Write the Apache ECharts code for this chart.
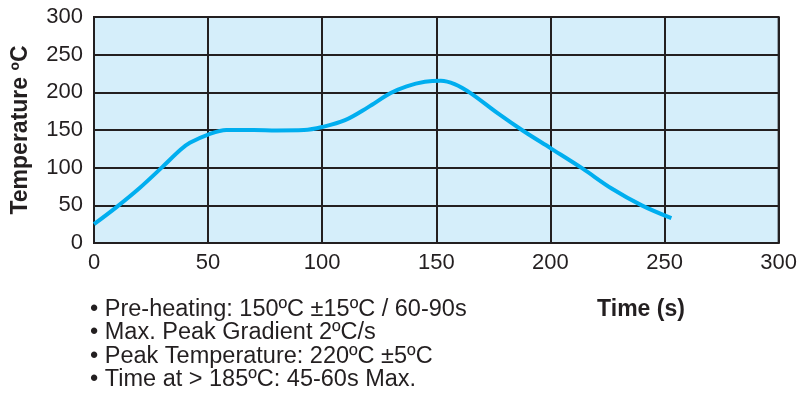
<!DOCTYPE html>
<html><head><meta charset="utf-8">
<script src="https://cdn.jsdelivr.net/npm/echarts@6/dist/echarts.min.js"></script>
<style>html,body{margin:0;padding:0;background:#fff}#c{width:800px;height:399px}</style>
</head><body><div id="c"></div>
<script>
const timeS = [0, 10, 20, 30, 38, 42, 50, 58, 70, 80, 92, 100, 110, 120, 130, 137, 145, 152, 158, 165, 177, 188, 200, 214, 227, 240, 253];
const tempC = [25, 48, 73, 101, 124, 133, 144, 150, 150, 149.5, 150, 154, 163, 180, 199, 208, 214, 215.5, 211, 199, 172, 149, 126, 99, 72, 50, 33];
const xTicks = [0, 50, 100, 150, 200, 250, 300];
const yTicks = [0, 50, 100, 150, 200, 250, 300];
const notes = [
  '\u2022 Pre-heating: 150\u00baC \u00b115\u00baC / 60-90s',
  '\u2022 Max. Peak Gradient 2\u00baC/s',
  '\u2022 Peak Temperature: 220\u00baC \u00b15\u00baC',
  '\u2022 Time at > 185\u00baC: 45-60s Max.'
];
const xTitle = 'Time (s)';
const yTitle = 'Temperature \u00baC';

const FONT = '"Liberation Sans", Arial, Helvetica, sans-serif';
const TXT = '#231f20';
const chart = echarts.init(document.getElementById('c'), null, {renderer: 'canvas'});
const pts = timeS.map((t, i) => [t, tempC[i]]);
const noteY = [310, 333, 357, 380];
chart.setOption({
  animation: false,
  grid: {left: 94, top: 17, right: 20, bottom: 156, show: true, backgroundColor: '#d5eefa', borderColor: TXT, borderWidth: 2},
  xAxis: {
    type: 'value', min: xTicks[0], max: xTicks[xTicks.length - 1], interval: 50,
    axisLine: {show: true, lineStyle: {color: TXT, width: 2}},
    axisTick: {show: false},
    splitLine: {show: true, lineStyle: {color: TXT, width: 2}},
    axisLabel: {color: TXT, fontSize: 22, fontFamily: FONT, margin: 9}
  },
  yAxis: {
    type: 'value', min: yTicks[0], max: yTicks[yTicks.length - 1], interval: 50,
    axisLine: {show: true, lineStyle: {color: TXT, width: 2}},
    axisTick: {show: false},
    splitLine: {show: true, lineStyle: {color: TXT, width: 2}},
    axisLabel: {color: TXT, fontSize: 22, fontFamily: FONT, margin: 11}
  },
  series: [{
    type: 'line', data: pts, smooth: 0.35, showSymbol: false,
    lineStyle: {color: '#00aeef', width: 4}
  }],
  graphic: [
    {type: 'text', x: 21, y: 130, rotation: Math.PI / 2,
     style: {text: yTitle, font: 'bold 23px ' + FONT, fill: TXT, textAlign: 'center', textVerticalAlign: 'middle'}},
    {type: 'text', x: 641, y: 310,
     style: {text: xTitle, font: 'bold 23px ' + FONT, fill: TXT, textAlign: 'center', textVerticalAlign: 'middle'}}
  ].concat(notes.map((n, i) => ({
    type: 'text', x: 90, y: noteY[i],
    style: {text: n, font: '23.5px ' + FONT, fill: TXT, textAlign: 'left', textVerticalAlign: 'middle'}
  })))
});
</script></body></html>
